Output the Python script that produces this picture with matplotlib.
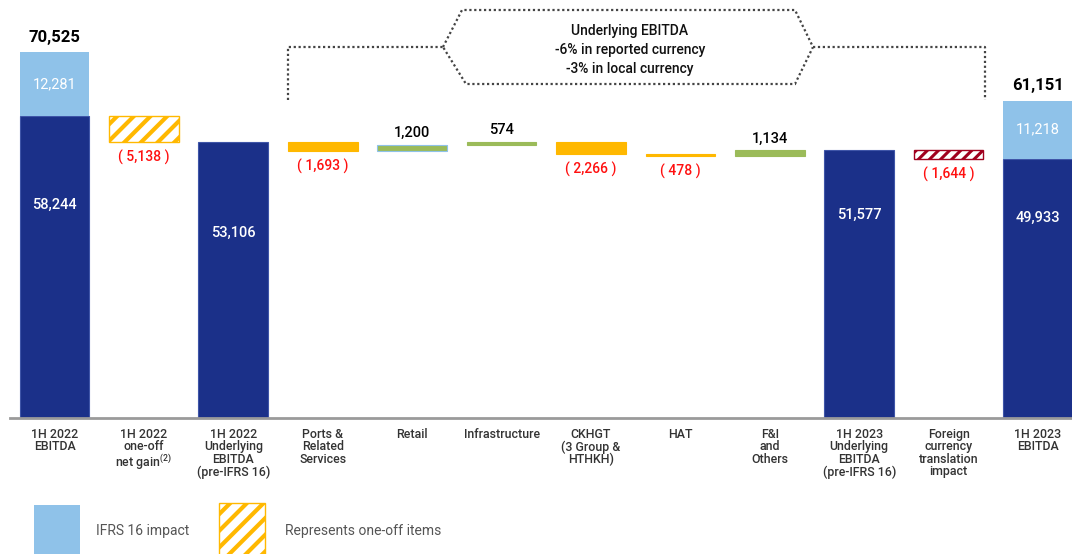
import matplotlib
matplotlib.use("Agg")
import matplotlib.pyplot as plt
from matplotlib.patches import Rectangle, Polygon
from matplotlib.lines import Line2D

plt.rcParams['font.family'] = ['Roboto', 'DejaVu Sans']
plt.rcParams['mathtext.fontset'] = 'custom'
plt.rcParams['mathtext.rm'] = 'Roboto'

# data
categories = ["1H 2022\nEBITDA", "1H 2022\none-off\nnet gain$^{\\mathregular{(2)}}$",
              "1H 2022\nUnderlying\nEBITDA\n(pre-IFRS 16)", "Ports &\nRelated\nServices",
              "Retail", "Infrastructure", "CKHGT\n(3 Group &\nHTHKH)", "HAT",
              "F&I\nand\nOthers", "1H 2023\nUnderlying\nEBITDA\n(pre-IFRS 16)",
              "Foreign\ncurrency\ntranslation\nimpact", "1H 2023\nEBITDA"]
ebitda_2022_pre = 58244
ifrs16_2022 = 12281
oneoff_2022 = -5138
underlying_2022 = 53106
segment_changes = [-1693, 1200, 574, -2266, -478, 1134]
underlying_2023 = 51577
fx_impact = -1644
ebitda_2023_pre = 49933
ifrs16_2023 = 11218

navy = "#1B3089"
light_blue = "#8FC2E9"
orange = "#FFB800"
green = "#9BBB59"
red_txt = "#FF1010"
dark_red = "#A0001E"

def fmt(v):
    return f"{abs(v):,}"

fig = plt.figure(figsize=(10.72, 5.54), dpi=100)
W, H = 1072, 554
ax = fig.add_axes([10 / W, (H - 418) / H, 1 - 10 / W, (418 - 10) / H])
ax.set_xlim(-0.498, 11.38)
ax.set_ylim(0, 78620)
for s in ['top', 'right', 'left']:
    ax.spines[s].set_visible(False)
ax.spines['bottom'].set_color('#9a9a9a')
ax.spines['bottom'].set_linewidth(2)
ax.set_yticks([])
ax.set_xticks(range(len(categories)))
ax.set_xticklabels(categories, fontsize=8.9, color='#333333', linespacing=0.95,
                   fontweight='medium')
ax.tick_params(axis='x', length=0, pad=7)

bw = 0.78
num_kw = dict(ha='center', fontweight='medium')

def hatched(x, bottom, height, color, hatch, lw):
    b = ax.bar(x, height, bw, bottom=bottom, color='white', edgecolor=color,
               hatch=hatch, linewidth=1)[0]
    try:
        b.set_hatch_linewidth(lw)
    except AttributeError:
        pass
    return b

# 1H 2022 EBITDA
ax.bar(0, ebitda_2022_pre, bw, color=navy, edgecolor='#3f55a8', linewidth=0.8)
ax.bar(0, ifrs16_2022, bw, bottom=ebitda_2022_pre, color=light_blue)
tot22 = ebitda_2022_pre + ifrs16_2022
ax.text(0, tot22 + 1400, fmt(tot22), fontsize=12, color='black', va='bottom',
        ha='center', fontweight='bold')
ax.text(0, ebitda_2022_pre + ifrs16_2022 / 2, fmt(ifrs16_2022), fontsize=10.5,
        color='white', va='center', ha='center')
ax.text(0, ebitda_2022_pre * 0.705, fmt(ebitda_2022_pre), fontsize=10.5,
        color='white', va='center', **num_kw)

# one-off
hatched(1, underlying_2022, -oneoff_2022, orange, '//', 3.0)
ax.text(1, underlying_2022 - 1500, "( " + fmt(oneoff_2022) + " )", fontsize=10,
        color=red_txt, va='top', ha='center', fontweight='medium')

# 1H 2022 underlying
ax.bar(2, underlying_2022, bw, color=navy, edgecolor='#3f55a8', linewidth=0.8)
ax.text(2, underlying_2022 * 0.671, fmt(underlying_2022), fontsize=10.5,
        color='white', va='center', **num_kw)

# segments
level = underlying_2022
for i, d in enumerate(segment_changes):
    x = 3 + i
    bottom = min(level, level + d)
    col = green if d > 0 else orange
    ax.bar(x, abs(d), bw, bottom=bottom, color=col,
           edgecolor=(light_blue if i == 1 else col), linewidth=0.8)
    if d > 0:
        ax.text(x, bottom + abs(d) + 900, fmt(d), fontsize=10.5, color='black',
                va='bottom', **num_kw)
    else:
        ax.text(x, bottom - 1500, "( " + fmt(d) + " )", fontsize=10,
                color=red_txt, va='top', ha='center', fontweight='medium')
    level += d

# 1H 2023 underlying
ax.bar(9, underlying_2023, bw, color=navy, edgecolor='#3f55a8', linewidth=0.8)
ax.text(9, underlying_2023 * 0.758, fmt(underlying_2023), fontsize=10.5,
        color='white', va='center', **num_kw)

# FX
hatched(10, underlying_2023 + fx_impact, -fx_impact, dark_red, '///', 2.2)
ax.text(10, underlying_2023 + fx_impact - 1500, "( " + fmt(fx_impact) + " )",
        fontsize=10, color=red_txt, va='top', ha='center', fontweight='medium')

# 1H 2023 EBITDA
ax.bar(11, ebitda_2023_pre, bw, color=navy, edgecolor='#3f55a8', linewidth=0.8)
ax.bar(11, ifrs16_2023, bw, bottom=ebitda_2023_pre, color=light_blue)
tot23 = ebitda_2023_pre + ifrs16_2023
ax.text(11, tot23 + 1400, fmt(tot23), fontsize=12, color='black', va='bottom',
        ha='center', fontweight='bold')
ax.text(11, ebitda_2023_pre + ifrs16_2023 / 2, fmt(ifrs16_2023), fontsize=10.5,
        color='white', va='center', ha='center')
ax.text(11, ebitda_2023_pre * 0.772, fmt(ebitda_2023_pre), fontsize=10.5,
        color='white', va='center', **num_kw)

# annotation bracket (pixel coords from top-left)
def P(x, y):
    return (x / W, 1 - y / H)

dot = dict(color='#444444', linestyle=(0, (1, 1.2)), linewidth=1.6,
           transform=fig.transFigure)
left = [P(288, 100), P(288, 47), P(443, 47)]
right = [P(813, 47), P(985, 47), P(985, 100)]
fig.add_artist(Line2D([p[0] for p in left], [p[1] for p in left], **dot))
fig.add_artist(Line2D([p[0] for p in right], [p[1] for p in right], **dot))
hexa = [P(443, 47), P(462, 10), P(795, 10), P(813, 47), P(795, 84), P(466, 84)]
fig.add_artist(Polygon(hexa, closed=True, fill=False, edgecolor='#444444',
                       linestyle=(0, (1, 1.2)), linewidth=1.6,
                       transform=fig.transFigure))
fig.text(630 / W, 1 - 50 / H, "Underlying EBITDA\n-6% in reported currency\n-3% in local currency",
         ha='center', va='center', fontsize=10, color='#111111', linespacing=1.45,
         fontweight='medium')

# legend
fig.add_artist(Rectangle(P(34, 560), 46 / W, 55 / H, facecolor=light_blue,
                         edgecolor='none', transform=fig.transFigure))
fig.text(96 / W, 1 - 531 / H, "IFRS 16 impact", fontsize=10, color='#555555',
         va='center')
leg_h = Rectangle(P(219, 560), 46 / W, 57 / H, facecolor='white', edgecolor=orange,
                  hatch='//', linewidth=1, transform=fig.transFigure)
try:
    leg_h.set_hatch_linewidth(3.0)
except AttributeError:
    pass
fig.add_artist(leg_h)
fig.text(285 / W, 1 - 531 / H, "Represents one-off items", fontsize=10,
         color='#555555', va='center')

fig.savefig("out.png", dpi=100)
